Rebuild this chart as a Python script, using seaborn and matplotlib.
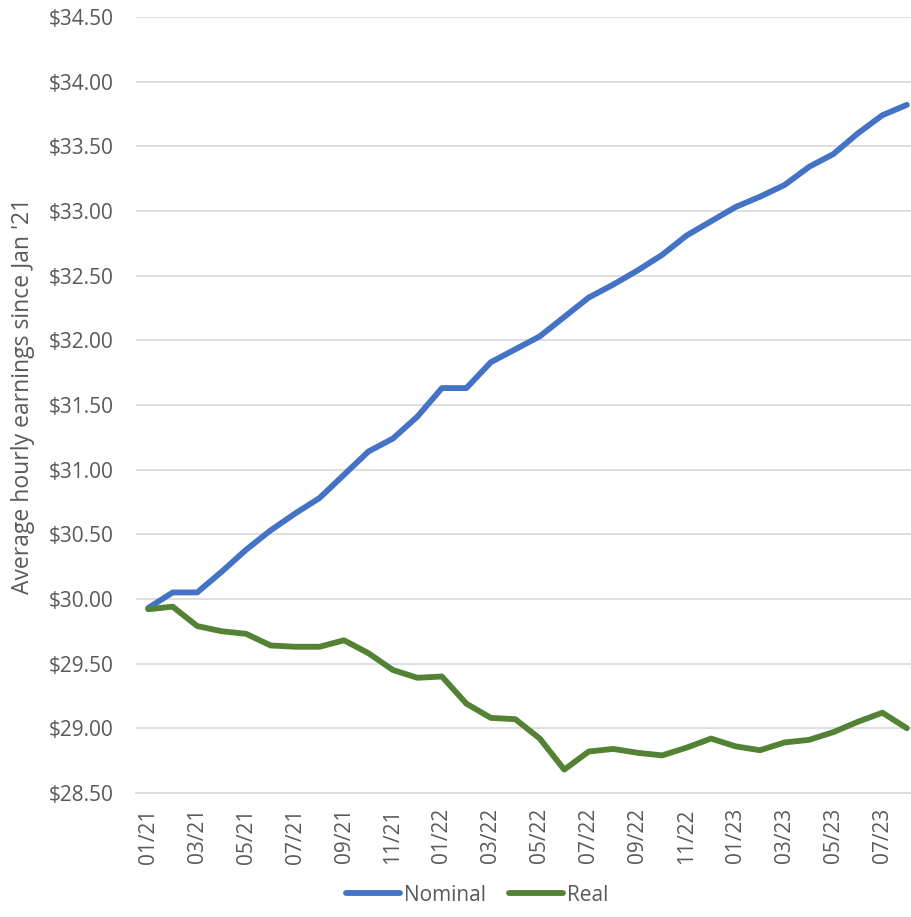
import numpy as np
import pandas as pd
import matplotlib
matplotlib.use("Agg")
import matplotlib.pyplot as plt
import seaborn as sns

# Monthly data, Jan 2021 - Aug 2023
months = pd.date_range("2021-01-01", periods=32, freq="MS").strftime("%m/%y").tolist()

nominal = [29.93, 30.05, 30.05, 30.21, 30.38, 30.53, 30.66, 30.78, 30.96, 31.14,
           31.24, 31.41, 31.63, 31.63, 31.83, 31.93, 32.03, 32.18, 32.33, 32.43,
           32.54, 32.66, 32.81, 32.92, 33.03, 33.11, 33.20, 33.34, 33.44, 33.60,
           33.74, 33.82]
real = [29.92, 29.94, 29.79, 29.75, 29.73, 29.64, 29.63, 29.63, 29.68, 29.58,
        29.45, 29.39, 29.40, 29.19, 29.08, 29.07, 28.92, 28.68, 28.82, 28.84,
        28.81, 28.79, 28.85, 28.92, 28.86, 28.83, 28.89, 28.91, 28.97, 29.05,
        29.12, 29.00]

df = pd.DataFrame({
    "idx": list(range(len(months))) * 2,
    "value": nominal + real,
    "series": ["Nominal"] * len(nominal) + ["Real"] * len(real),
})

sns.set_style("white")
plt.rcParams["font.family"] = ["Open Sans", "DejaVu Sans"]
text_color = "#595959"
grid_color = "#d9d9d9"

fig = plt.figure(figsize=(9.12, 9.17), dpi=100)
ax = fig.add_axes([136 / 912, 1 - 792.9 / 917, 1 - 136 / 912, (792.9 - 16.9) / 917])

sns.lineplot(data=df, x="idx", y="value", hue="series",
             palette={"Nominal": "#4472C4", "Real": "#548235"},
             linewidth=4.2, ax=ax, legend=False, zorder=3)
for line in ax.lines:
    line.set_solid_capstyle("round")
    line.set_solid_joinstyle("round")

ax.set_xlim(-0.5, 31.21)
ax.set_ylim(28.5, 34.5)
ax.set_yticks(np.arange(28.5, 34.51, 0.5))
ax.set_yticklabels([f"${v:.2f}" for v in np.arange(28.5, 34.51, 0.5)])
ax.yaxis.grid(True, color=grid_color, linewidth=1.2)
ax.set_axisbelow(True)

ax.set_xticks(range(0, len(months), 2))
ax.set_xticklabels(months[::2], rotation=90)
ax.set_xticks(np.arange(-0.5, 31, 2), minor=True)
ax.tick_params(axis="x", which="major", length=0, pad=11, labelsize=15, labelcolor=text_color)
ax.tick_params(axis="x", which="minor", length=5, width=1.2, color=grid_color, direction="out")
ax.tick_params(axis="y", length=0, pad=16, labelsize=15, labelcolor=text_color)

for s in ["top", "right", "left"]:
    ax.spines[s].set_visible(False)
ax.spines["bottom"].set_color(grid_color)
ax.spines["bottom"].set_linewidth(1.2)

ax.set_xlabel("")
ax.set_ylabel("Average hourly earnings since Jan '21", fontsize=16.5, color=text_color)
ax.yaxis.set_label_coords(-101 / 776, 0.511)

handles = [plt.Line2D([], [], color="#4472C4", lw=4.2, solid_capstyle="round"),
           plt.Line2D([], [], color="#548235", lw=4.2, solid_capstyle="round")]
leg = fig.legend(handles, ["Nominal", "Real"], loc="lower center",
                 bbox_to_anchor=(477 / 912, -0.008), ncol=2, frameon=False,
                 fontsize=15, handlelength=2.6, handletextpad=0.2, columnspacing=1.1)
for t in leg.get_texts():
    t.set_color(text_color)

fig.savefig("out.png", dpi=100)
